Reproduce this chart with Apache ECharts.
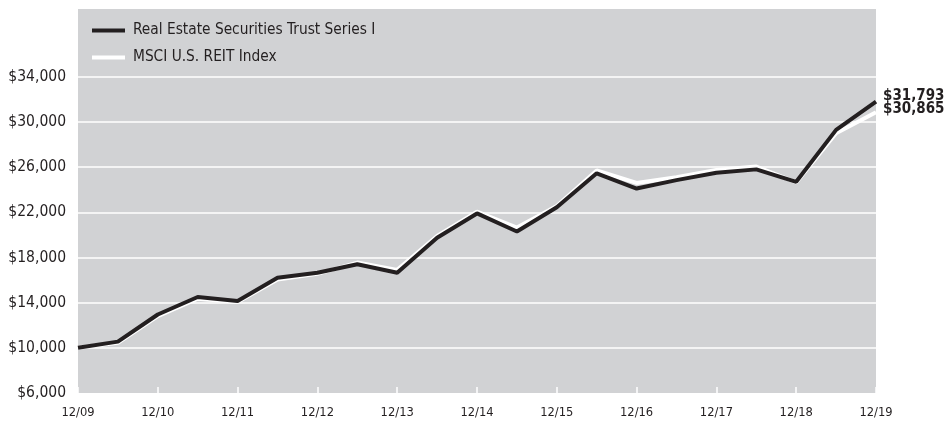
<!DOCTYPE html>
<html>
<head>
<meta charset="utf-8">
<script src="https://cdn.jsdelivr.net/npm/echarts@6/dist/echarts.min.js"></script>
<style>
html,body{margin:0;padding:0;background:#fff;}
#chart{width:945px;height:421px;}
</style>
</head>
<body>
<div id="chart"></div>
<script>
const categories = ['12/09','6/10','12/10','6/11','12/11','6/12','12/12','6/13','12/13','6/14','12/14','6/15','12/15','6/16','12/16','6/17','12/17','6/18','12/18','6/19','12/19'];
const fundName = 'Real Estate Securities Trust Series I';
const indexName = 'MSCI U.S. REIT Index';
const fundValues = [10000, 10550, 12950, 14500, 14150, 16200, 16650, 17400, 16650, 19750, 21900, 20300, 22450, 25450, 24100, 24850, 25500, 25800, 24700, 29300, 31793];
const indexValues = [10000, 10450, 12800, 14350, 14050, 16050, 16550, 17550, 16900, 19900, 22050, 20650, 22550, 25700, 24600, 25100, 25750, 26050, 24650, 29000, 30865];
const gridValues = [10000, 14000, 18000, 22000, 26000, 30000, 34000];
const yMin = 6000, yMax = 40000, yStep = 4000, yLabelMax = 34000;

const FONT = '"DejaVu Sans Condensed", "DejaVu Sans", sans-serif';
const TEXT = '#231f20';
const fmt = v => '$' + Number(v).toLocaleString('en-US');

const chart = echarts.init(document.getElementById('chart'), null, {renderer: 'canvas'});
chart.setOption({
  animation: false,
  backgroundColor: '#ffffff',
  textStyle: {fontFamily: FONT, color: TEXT},
  grid: {left: 78, right: 69, top: 9, bottom: 28, show: true, backgroundColor: '#d1d2d4', borderWidth: 0},
  legend: {
    orient: 'vertical', left: 92, top: 21.5, itemGap: 9, padding: 0,
    itemWidth: 33, itemHeight: 4, icon: 'rect',
    data: [fundName, indexName],
    textStyle: {fontFamily: FONT, fontSize: 15.3, color: TEXT, lineHeight: 18, padding: [0, 0, 0, 3]}
  },
  xAxis: {
    type: 'category', data: categories, boundaryGap: false,
    axisLine: {show: false},
    axisTick: {show: true, inside: true, interval: 1, length: 6, lineStyle: {color: '#ffffff', width: 1.5}},
    axisLabel: {interval: 1, fontFamily: FONT, fontSize: 12.8, color: TEXT, margin: 13},
    splitLine: {show: false}
  },
  yAxis: {
    type: 'value', min: yMin, max: yMax, interval: yStep,
    axisLine: {show: false}, axisTick: {show: false},
    splitLine: {show: false},
    axisLabel: {fontFamily: FONT, fontSize: 15.5, color: TEXT, margin: 12,
      formatter: v => (v <= yLabelMax ? fmt(v) : '')}
  },
  series: [
    {
      name: indexName, type: 'line', data: indexValues, symbol: 'none', z: 2,
      lineStyle: {color: '#ffffff', width: 4}, itemStyle: {color: '#ffffff'},
      endLabel: {show: true, formatter: p => fmt(p.value), fontFamily: FONT, fontSize: 15, fontWeight: 'bold', color: TEXT, distance: 7, offset: [0, -3]},
      markLine: {
        silent: true, symbol: 'none', z: 1, animation: false,
        label: {show: false},
        lineStyle: {color: '#ffffff', width: 1.5, type: 'solid'},
        data: gridValues.map(v => ({yAxis: v}))
      }
    },
    {
      name: fundName, type: 'line', data: fundValues, symbol: 'none', z: 3,
      lineStyle: {color: '#231f20', width: 4}, itemStyle: {color: '#231f20'},
      endLabel: {show: true, formatter: p => fmt(p.value), fontFamily: FONT, fontSize: 15, fontWeight: 'bold', color: TEXT, distance: 7, offset: [0, -5.5]}
    }
  ]
});
</script>
</body>
</html>
